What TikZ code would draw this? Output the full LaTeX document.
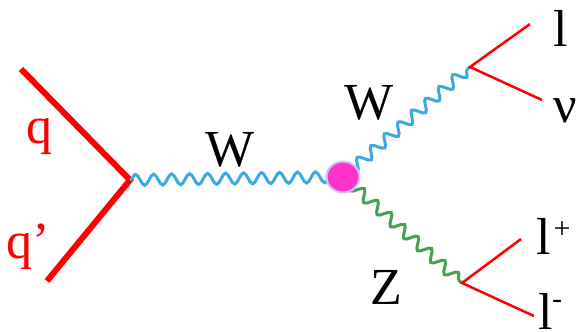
\documentclass[tikz,border=0pt]{standalone}
\usepackage{fontspec}
\setmainfont{Liberation Serif}
\usetikzlibrary{decorations.pathmorphing,shapes.geometric}
\definecolor{qred}{HTML}{FF0000}
\definecolor{wblue}{HTML}{3AAAE0}
\definecolor{zgreen}{HTML}{45A255}
\definecolor{blobfill}{HTML}{FF33CC}
\definecolor{blobedge}{HTML}{C8C4FF}
\begin{document}
\begin{tikzpicture}[x=1pt,y=-1pt,
  quark/.style={draw=qred,line width=6pt},
  lepton/.style={draw=qred,line width=2.5pt},
  boson/.style={line width=3pt,decorate,decoration={snake,segment length=18pt,amplitude=5.5pt}},
  lab/.style={inner sep=0pt,font=\fontsize{52}{52}\selectfont},
  qlab/.style={lab,text=qred},
  sup/.style={inner sep=0pt,font=\fontsize{30}{30}\selectfont}]
\useasboundingbox (0,0) rectangle (581,332);
% vertices
\coordinate (qa) at (21,69);
\coordinate (qb) at (47,281);
\coordinate (v1) at (130,180);
\coordinate (v2) at (343,177);
\coordinate (v3) at (470,67);
\coordinate (v4) at (462,283);
\coordinate (le) at (530,24);
\coordinate (nu) at (542,100);
\coordinate (lp) at (521,239);
\coordinate (lm) at (534,316);
% quarks
\draw[quark] (qa) -- (v1) -- (qb);
% bosons
\draw[boson,draw=wblue] (v1) -- (v2);
\draw[boson,draw=wblue] (v2) -- (v3);
\draw[boson,draw=zgreen] (v2) -- (v4);
% leptons
\draw[lepton] (le) -- (v3) -- (nu);
\draw[lepton] (lp) -- (v4) -- (lm);
% blob
\node[ellipse,minimum width=33pt,minimum height=31pt,inner sep=0pt,fill=blobfill,draw=blobedge,line width=2pt] (blob) at (v2) {};
% labels
\node[qlab] (lq) at (40,137) {q};
\node[qlab] (lqp) at (28,247) {q’};
\node[lab] (lw1) at (230,150) {W};
\node[lab] (lw2) at (369,103) {W};
\node[lab] (lz) at (386,287) {Z};
\node[lab] (ll) at (561,28) {l};
\node[lab] (lnu) at (565,111) {ν};
\node[lab] (llp) at (544,236) {l};
\node[sup] (plus) at (562,230) {+};
\node[lab] (llm) at (546,311) {l};
\node[sup] (minus) at (557,304) {-};
\end{tikzpicture}
\end{document}
